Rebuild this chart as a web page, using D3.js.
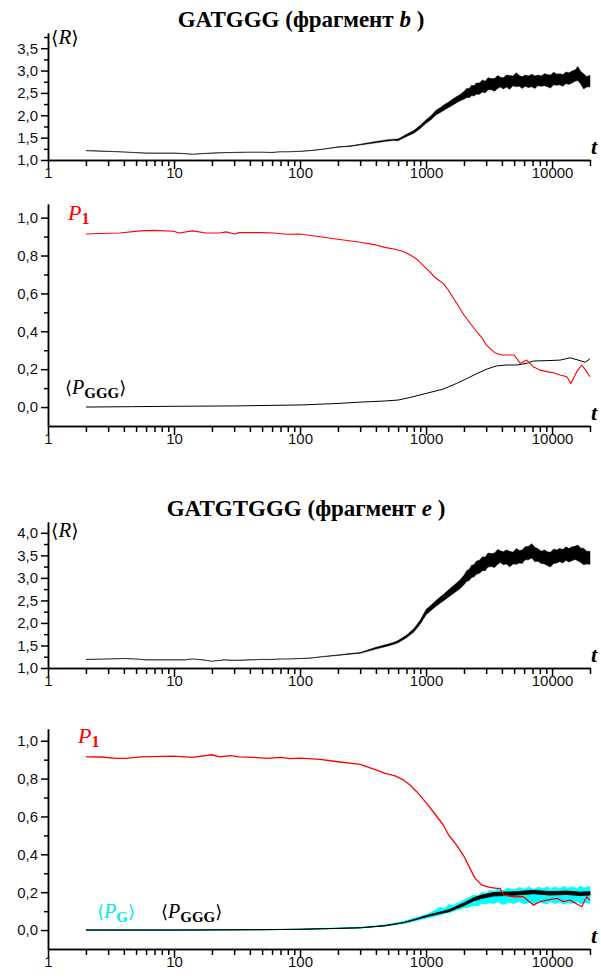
<!DOCTYPE html>
<html>
<head>
<meta charset="utf-8">
<script src="https://cdn.jsdelivr.net/npm/d3@7"></script>
<style>
  body { margin: 0; background: #fff; }
  svg text { font-family: "Liberation Sans", Arial, sans-serif; }
  svg text.serif { font-family: "Liberation Serif", "Times New Roman", "DejaVu Serif", serif; }
</style>
</head>
<body>
<svg id="chart" width="601" height="978"></svg>
<script>
// ---- data ----
const xMajor = [1, 10, 100, 1000, 10000];
const xMinor = [2,3,4,5,6,7,8,9, 20,30,40,50,60,70,80,90, 200,300,400,500,600,700,800,900,
                2000,3000,4000,5000,6000,7000,8000,9000, 20000];

// <R>: both fragments share one time grid (denser where the signal is noisy)
const tR = [2,3,4,5,6,7,8,10,12,14,17,20,25,30,40,50,60,70,80,100,
            120,150,200,250,300,400,500,550,600,700,800,900,1000,1100,1200,1300,1400,1500,1600,1700,1850,
            2000,2100,2200,2300,2400,2500,2650,2800,2950,3100,3300,3500,3700,3900,4100,4350,4600,4900,5200,5500,
            5800,6100,6500,6900,7300,7700,8200,8700,9200,9700,10300,10900,11500,12200,12900,13600,14400,15200,16000,16900,
            17800,18800,20000];

// fragment b: lower / upper edge of the noisy <R> trace
const R1lo = [1.207,1.192,1.177,1.162,1.152,1.152,1.152,1.152,1.142,1.127,1.142,1.152,1.162,1.167,1.172,1.172,1.167,1.182,1.182,1.192,
              1.207,1.237,1.286,1.304,1.337,1.385,1.425,1.435,1.432,1.525,1.60,1.705,1.82,1.905,2.01,2.065,2.12,2.17,2.215,2.26,2.32,
              2.36,2.40,2.39,2.44,2.43,2.47,2.47,2.52,2.50,2.57,2.57,2.54,2.60,2.63,2.59,2.63,2.58,2.66,2.64,2.65,
              2.60,2.65,2.62,2.64,2.60,2.66,2.65,2.66,2.64,2.61,2.68,2.67,2.68,2.65,2.71,2.69,2.72,2.76,2.78,2.70,
              2.59,2.63,2.64];
const R1hi = [1.211,1.196,1.181,1.166,1.156,1.156,1.156,1.156,1.146,1.131,1.146,1.156,1.166,1.171,1.176,1.176,1.171,1.186,1.186,1.196,
              1.213,1.243,1.294,1.316,1.353,1.415,1.455,1.465,1.468,1.575,1.66,1.775,1.90,1.995,2.11,2.175,2.24,2.29,2.345,2.40,2.46,
              2.53,2.60,2.60,2.67,2.66,2.72,2.72,2.79,2.76,2.84,2.82,2.82,2.89,2.85,2.84,2.90,2.89,2.88,2.95,2.89,
              2.86,2.90,2.88,2.92,2.88,2.90,2.88,2.93,2.91,2.90,2.96,2.92,2.93,2.91,2.97,2.95,2.99,3.01,3.09,2.98,
              2.93,2.87,2.89];

const tP1b = [2,2.6,3.7,5.4,6.9,9.9,11,14,18,23, 26,30,33,48,62,78,100,200,300,400,
              470,570,660,750,840,1000,1200,1370,1500,1750,
              2000,2400,2800,3000,3500,4000,5000,5600,6300,7100,
              8000,9100,10300,11600,13100,14100,15700,17200,18800,20000];
const P1b  = [0.914,0.916,0.919,0.930,0.933,0.928,0.919,0.930,0.919,0.919,
              0.925,0.914,0.921,0.921,0.919,0.912,0.914,0.886,0.870,0.856,
              0.843,0.833,0.821,0.803,0.782,0.733,0.680,0.653,0.618,0.548,
              0.486,0.416,0.363,0.328,0.287,0.275,0.275,0.231,0.248,0.213,
              0.195,0.187,0.181,0.169,0.160,0.125,0.187,0.222,0.187,0.160];

const tGGGb = [2,4.6,10,30,100,200,300,470,600,750,1000,1370,1750,2000,2400,3000,3600,4400,5300,6300,7100,9100,11600,13900,16700,18300,20000];
const GGGb  = [0.0,0.002,0.004,0.006,0.011,0.019,0.026,0.032,0.037,0.051,
               0.072,0.095,0.125,0.143,0.169,0.199,0.217,0.222,0.222,0.231,
               0.243,0.245,0.248,0.260,0.245,0.236,0.255];

// fragment e
const R2lo = [1.188,1.198,1.208,1.198,1.178,1.178,1.178,1.178,1.178,1.198,1.178,1.148,1.178,1.168,1.178,1.188,1.188,1.198,1.198,1.208,
              1.217,1.247,1.279,1.307,1.325,1.42,1.49,1.523,1.56,1.67,1.80,1.975,2.18,2.28,2.37,2.44,2.505,2.57,2.625,2.68,2.755,
              2.85,2.92,2.94,3.01,3.02,3.08,3.10,3.16,3.16,3.24,3.25,3.23,3.30,3.34,3.29,3.31,3.24,3.31,3.30,3.33,
              3.32,3.40,3.40,3.44,3.36,3.37,3.32,3.31,3.27,3.24,3.32,3.33,3.36,3.33,3.39,3.35,3.38,3.41,3.38,3.34,
              3.29,3.31,3.30];
const R2hi = [1.192,1.202,1.212,1.202,1.182,1.182,1.182,1.182,1.182,1.202,1.182,1.152,1.182,1.172,1.182,1.192,1.192,1.202,1.202,1.212,
              1.223,1.253,1.291,1.323,1.345,1.46,1.53,1.567,1.61,1.73,1.87,2.065,2.30,2.40,2.50,2.58,2.655,2.73,2.795,2.86,2.945,
              3.06,3.16,3.19,3.28,3.29,3.37,3.39,3.47,3.46,3.55,3.54,3.55,3.63,3.60,3.58,3.62,3.59,3.57,3.65,3.61,
              3.62,3.69,3.70,3.76,3.68,3.65,3.59,3.62,3.58,3.57,3.64,3.62,3.65,3.63,3.69,3.65,3.69,3.70,3.73,3.66,
              3.66,3.59,3.59];

const tP1e = [2,2.6,3.5,4.2,5.4,9.9,14,20,23,28, 33,43,55,70,83,100,144,200,300,406,
              473,568,661,746,843,1012,1140,1370,1510,1750,
              2010,2230,2450,2770,3220,3640,3870,4110,4940,5920,
              7110,8030,9080,10900,12300,13900,17200,18800,20000];
const P1e  = [0.915,0.914,0.907,0.907,0.915,0.919,0.912,0.926,0.915,0.921,
              0.915,0.912,0.907,0.912,0.905,0.908,0.902,0.889,0.875,0.845,
              0.828,0.814,0.793,0.766,0.731,0.669,0.625,0.555,0.502,0.449,
              0.387,0.326,0.273,0.238,0.226,0.220,0.220,0.185,0.176,0.176,
              0.132,0.150,0.158,0.167,0.150,0.158,0.123,0.176,0.158];

const tGGGe = [2,10,50,100,200,300,473,661,843,1012,1290,1514,1751,2014,2375,2768,3420,4110,5250,7110,9640,13090,16700,20000];
const GGGeLo = [0,0,0.002,0.004,0.009,0.012,0.022,0.038,0.056,0.071,0.087,0.097,0.114,0.130,0.154,0.167,0.180,0.182,0.185,0.192,0.185,0.188,0.182,0.185];
const GGGeHi = [0,0,0.002,0.004,0.009,0.012,0.024,0.040,0.060,0.077,0.095,0.107,0.126,0.144,0.170,0.185,0.198,0.200,0.203,0.210,0.203,0.206,0.200,0.203];

const tPGe = [2,10,50,100,200,300,473,661,843,1012,1150,1290,1400,1514,1650,1751,1900,2014,2200,2375,
              2600,2768,3000,3200,3420,3700,4110,4500,5000,5500,6000,6600,7110,7800,8500,9200,9640,10500,11500,12500,
              13090,14500,16000,16700,18000,20000];
const PGeLo = [0,0,0.002,0.004,0.008,0.011,0.021,0.035,0.050,0.064,0.072,0.080,0.088,0.092,0.100,0.106,0.112,0.118,0.122,0.130,
               0.128,0.140,0.138,0.145,0.140,0.150,0.135,0.148,0.140,0.152,0.138,0.146,0.135,0.150,0.142,0.138,0.150,0.140,0.148,0.136,
               0.145,0.140,0.150,0.138,0.146,0.142];
const PGeHi = [0,0,0.003,0.005,0.011,0.015,0.027,0.045,0.066,0.082,0.100,0.120,0.112,0.135,0.128,0.142,0.150,0.160,0.172,0.185,
               0.180,0.200,0.195,0.210,0.205,0.215,0.208,0.222,0.212,0.225,0.215,0.228,0.214,0.226,0.218,0.230,0.215,0.228,0.218,0.232,
               0.220,0.228,0.218,0.234,0.222,0.230];

// ---- drawing ----
const svg = d3.select("#chart");
const x = d3.scaleLog().domain([1, 20000]).range([48, 590]);
const fmt = d3.formatLocale({decimal: ",", thousands: " ", grouping: [3], currency: ["", ""]}).format(".1f");

const panels = [
  {y: d3.scaleLinear().domain([1, 3.84]).range([160, 33]),
   major: [1, 1.5, 2, 2.5, 3, 3.5], minor: [1.25, 1.75, 2.25, 2.75, 3.25, 3.75]},
  {y: d3.scaleLinear().domain([-0.1, 1.072]).range([426, 204]),
   major: [0, 0.2, 0.4, 0.6, 0.8, 1.0], minor: [0.1, 0.3, 0.5, 0.7, 0.9]},
  {y: d3.scaleLinear().domain([1, 4.24]).range([668, 522]),
   major: [1, 1.5, 2, 2.5, 3, 3.5, 4], minor: [1.25, 1.75, 2.25, 2.75, 3.25, 3.75]},
  {y: d3.scaleLinear().domain([-0.1, 1.062]).range([949, 729]),
   major: [0, 0.2, 0.4, 0.6, 0.8, 1.0], minor: [0.1, 0.3, 0.5, 0.7, 0.9]}
];

const styleAxis = g => {
  g.selectAll("path.domain, line").attr("stroke", "#000").attr("stroke-width", 1.5);
  g.selectAll("text").attr("fill", "#111").attr("font-size", 15)
    .attr("font-family", "'Liberation Sans', Arial, sans-serif");
};

panels.forEach(p => {
  const base = p.y.range()[0];
  svg.append("g").attr("transform", `translate(0,${base})`)
    .call(d3.axisBottom(x).tickValues(xMinor).tickSize(6).tickSizeOuter(0).tickFormat(""))
    .call(styleAxis);
  svg.append("g").attr("transform", `translate(0,${base})`)
    .call(d3.axisBottom(x).tickValues(xMajor).tickSize(9).tickSizeOuter(0).tickPadding(-2).tickFormat(d3.format("d")))
    .call(styleAxis);
  svg.append("g").attr("transform", `translate(${x.range()[0]},0)`)
    .call(d3.axisLeft(p.y).tickValues(p.minor).tickSize(4).tickSizeOuter(0).tickFormat(""))
    .call(styleAxis);
  svg.append("g").attr("transform", `translate(${x.range()[0]},0)`)
    .call(d3.axisLeft(p.y).tickValues(p.major).tickSize(7).tickSizeOuter(0).tickPadding(3).tickFormat(fmt))
    .call(styleAxis);
  svg.append("text").attr("class", "serif")
    .attr("x", 597).attr("y", base - 6).attr("text-anchor", "end")
    .attr("font-size", 22).attr("font-weight", "bold").attr("font-style", "italic")
    .text("t");
});

const band = (y, t, lo, hi, color, w, cls) => {
  const data = t.map((d, i) => ({t: d, lo: lo[i], hi: hi[i]}));
  svg.append("path").datum(data).attr("class", cls)
    .attr("d", d3.area().x(d => x(d.t)).y0(d => y(d.lo)).y1(d => y(d.hi)))
    .attr("fill", color).attr("stroke", color).attr("stroke-width", w)
    .attr("stroke-linejoin", "round");
};
const line = (y, t, v, color, w, cls) => {
  const data = t.map((d, i) => ({t: d, v: v[i]}));
  svg.append("path").datum(data).attr("class", cls)
    .attr("d", d3.line().x(d => x(d.t)).y(d => y(d.v)))
    .attr("fill", "none").attr("stroke", color).attr("stroke-width", w)
    .attr("stroke-linejoin", "round");
};

band(panels[0].y, tR, R1lo, R1hi, "#000", 0.5, "r-b");
line(panels[1].y, tGGGb, GGGb, "#000", 1.0, "ggg-b");
line(panels[1].y, tP1b, P1b, "#ff0000", 1.1, "p1-b");
band(panels[2].y, tR, R2lo, R2hi, "#000", 0.5, "r-e");
band(panels[3].y, tPGe, PGeLo, PGeHi, "#00ffff", 0.8, "pg-e");
band(panels[3].y, tGGGe, GGGeLo, GGGeHi, "#000", 0.9, "ggg-e");
line(panels[3].y, tP1e, P1e, "#ff0000", 1.3, "p1-e");

// ---- titles and labels ----
const title = (cx, by, name, frag) => {
  const t = svg.append("text").attr("class", "serif").attr("x", cx).attr("y", by)
    .attr("text-anchor", "middle").attr("font-size", 23).attr("font-weight", "bold");
  t.append("tspan").text(name + " (фрагмент ");
  t.append("tspan").attr("font-style", "italic").text(frag);
  t.append("tspan").text(" )");
};
title(301, 27, "GATGGG", "b");
title(306, 516, "GATGTGGG", "e");

const bracketLabel = (lx, by, sym, sub, color, size) => {
  const t = svg.append("text").attr("class", "serif").attr("x", lx).attr("y", by)
    .attr("fill", color).attr("font-size", size);
  t.append("tspan").attr("font-family", "'DejaVu Serif', serif").attr("font-size", size * 0.9).text("⟨");
  t.append("tspan").attr("font-style", "italic").text(sym);
  if (sub) t.append("tspan").attr("font-weight", "bold").attr("font-size", size * 0.75).attr("dy", 4).text(sub);
  t.append("tspan").attr("font-family", "'DejaVu Serif', serif").attr("font-size", size * 0.9)
    .attr("dy", sub ? -4 : 0).text("⟩");
};
const pLabel = (lx, by, color) => {
  const t = svg.append("text").attr("class", "serif").attr("x", lx).attr("y", by)
    .attr("fill", color).attr("font-size", 22);
  t.append("tspan").attr("font-style", "italic").text("P");
  t.append("tspan").attr("font-weight", "bold").attr("font-size", 16).attr("dy", 4).text("1");
};

bracketLabel(51, 44, "R", null, "#000", 21);
pLabel(68, 220, "#ff0000");
bracketLabel(65, 394, "P", "GGG", "#000", 20);
bracketLabel(51, 537, "R", null, "#000", 21);
pLabel(78, 743, "#ff0000");
bracketLabel(97, 918, "P", "G", "#00e8f0", 20);
bracketLabel(161, 918, "P", "GGG", "#000", 20);
</script>
</body>
</html>
